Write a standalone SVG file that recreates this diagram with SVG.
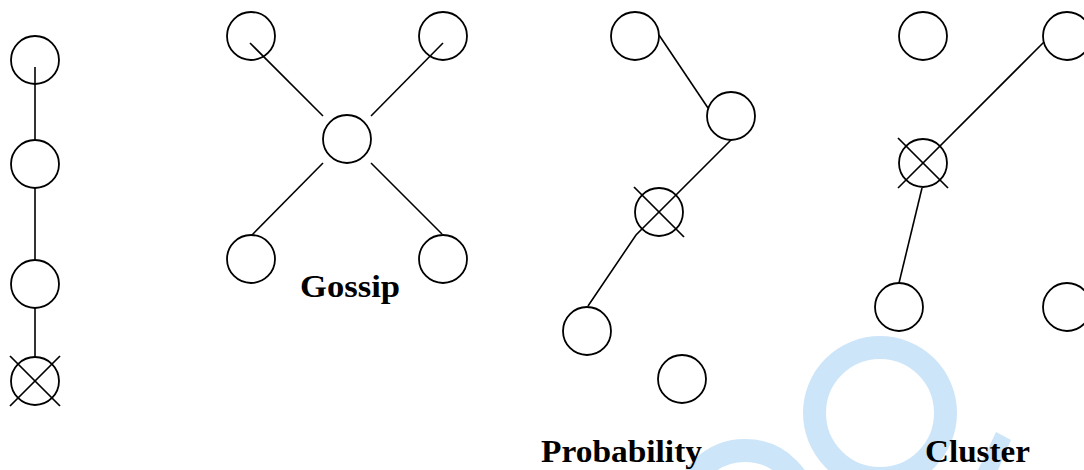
<svg xmlns="http://www.w3.org/2000/svg" width="1084" height="470" viewBox="0 0 1084 470">
  <style>
    .node { fill: none; stroke: #000; stroke-width: 1.8; }
    .x { stroke: #000; stroke-width: 1.7; fill: none; }
    .edge { stroke: #000; stroke-width: 1.6; fill: none; }
    .lbl { font-family: "Liberation Serif", "DejaVu Serif", serif; font-weight: bold; font-size: 32px; fill: #000; }
    .wm { fill: none; stroke: #cde5f9; }
  </style>
  <rect width="1084" height="470" fill="#fff"/>
  <g id="watermark">
    <circle class="wm" cx="880" cy="413" r="65.5" stroke-width="23"/>
    <circle class="wm" cx="745" cy="512" r="61.5" stroke-width="23"/>
    <polygon points="996,432 1011,440 998,470 978,470" fill="#cde5f9"/>
  </g>
  <g id="connectors">
    <line class="edge" x1="35" y1="67" x2="35" y2="140"/>
    <line class="edge" x1="35" y1="188" x2="35" y2="260"/>
    <line class="edge" x1="35" y1="307" x2="35" y2="357"/>
    <line class="edge" x1="250" y1="43" x2="323" y2="116"/>
    <line class="edge" x1="443" y1="43" x2="371" y2="116"/>
    <line class="edge" x1="323" y1="163" x2="252" y2="235"/>
    <line class="edge" x1="371" y1="163" x2="442" y2="234"/>
    <line class="edge" x1="659" y1="35" x2="708" y2="108"/>
    <polyline class="edge" points="731,140 636,235 588,306"/>
    <line class="edge" x1="1044" y1="42" x2="898" y2="188"/>
    <line class="edge" x1="922" y1="188" x2="899" y2="283"/>
  </g>
  <g id="chain">
    <g id="c1"><circle class="node" cx="35" cy="60" r="24"/></g>
    <g id="c2"><circle class="node" cx="35" cy="164" r="24"/></g>
    <g id="c3"><circle class="node" cx="35" cy="284" r="24"/></g>
    <g id="c4"><circle class="node" cx="35" cy="381" r="24"/>
      <line class="x" x1="10" y1="356" x2="60" y2="406"/>
      <line class="x" x1="60" y1="356" x2="10" y2="406"/></g>
  </g>
  <g id="gossip">
    <g id="g1"><circle class="node" cx="251" cy="36" r="24"/></g>
    <g id="g2"><circle class="node" cx="443" cy="36" r="24"/></g>
    <g id="g3"><circle class="node" cx="347" cy="139" r="24"/></g>
    <g id="g4"><circle class="node" cx="251" cy="259" r="24"/></g>
    <g id="g5"><circle class="node" cx="443" cy="259" r="24"/></g>
    <text class="lbl" x="300" y="297" textLength="100" lengthAdjust="spacingAndGlyphs">Gossip</text>
  </g>
  <g id="probability">
    <g id="p1"><circle class="node" cx="635" cy="36" r="24"/></g>
    <g id="p2"><circle class="node" cx="731" cy="116" r="24"/></g>
    <g id="p3"><circle class="node" cx="659" cy="212" r="24"/>
      <line class="x" x1="634" y1="187" x2="684" y2="237"/></g>
    <g id="p4"><circle class="node" cx="587" cy="331" r="24"/></g>
    <g id="p5"><circle class="node" cx="682" cy="379" r="24"/></g>
    <text class="lbl" x="541" y="462" textLength="161" lengthAdjust="spacingAndGlyphs">Probability</text>
  </g>
  <g id="cluster">
    <g id="k1"><circle class="node" cx="923" cy="36" r="24"/></g>
    <g id="k2"><circle class="node" cx="1067" cy="36" r="24"/></g>
    <g id="k3"><circle class="node" cx="923" cy="163" r="24"/>
      <line class="x" x1="898" y1="138" x2="948" y2="188"/></g>
    <g id="k4"><circle class="node" cx="899" cy="307" r="24"/></g>
    <g id="k5"><circle class="node" cx="1067" cy="307" r="24"/></g>
    <text class="lbl" x="925" y="462" textLength="105" lengthAdjust="spacingAndGlyphs">Cluster</text>
  </g>
</svg>
